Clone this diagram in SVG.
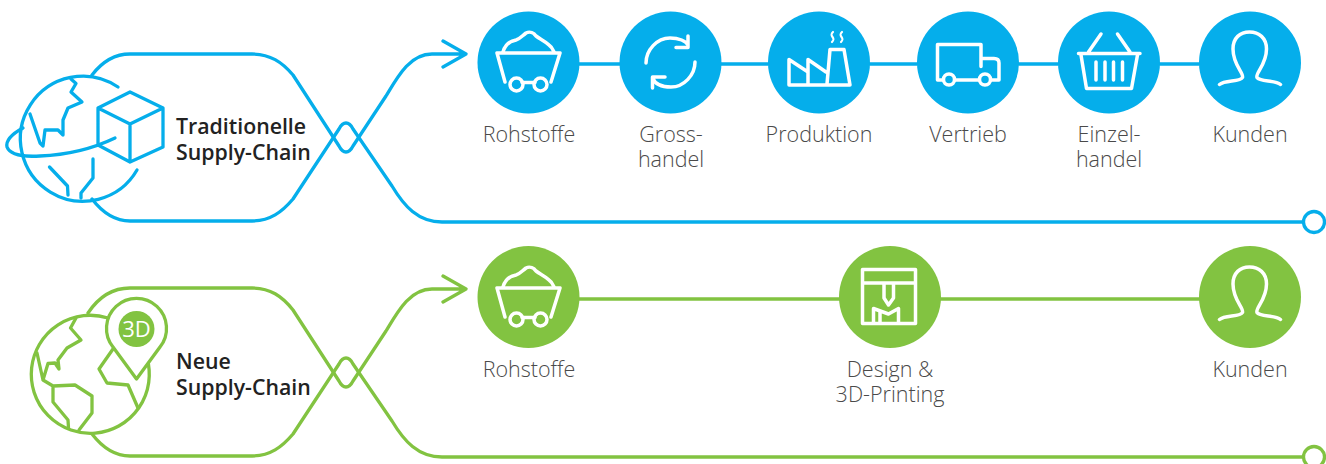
<svg xmlns="http://www.w3.org/2000/svg" xmlns:xlink="http://www.w3.org/1999/xlink" width="1326" height="464" viewBox="0 0 1326 464">
<style>
.b{fill:none;stroke:#05aeeb;stroke-width:3.300;stroke-linejoin:round;stroke-linecap:round}
.g{fill:none;stroke:#82c341;stroke-width:3.300;stroke-linejoin:round;stroke-linecap:round}
.bf{fill:#05aeeb}.gf{fill:#82c341}
.i{fill:none;stroke:#fff;stroke-width:3.500;stroke-linejoin:round;stroke-linecap:round}
.l{font-family:"Open Sans",sans-serif;font-weight:300;font-size:21.500px;fill:#4a4a4a;text-anchor:middle}
.t{font-family:"Open Sans",sans-serif;font-weight:600;font-size:21.300px;fill:#222}
</style>
<defs>
<g id="cart">
<path class="i" d="M497 53H560M497 53L505 82M560 53L551 82M522 82.500H535"/>
<path class="i" d="M503 52C505 45 510 41 516 40C520 39 522 36 526 33C530 31 534 33 536 36C540 39 545 41 549 45C552 47 553 50 554 52"/>
<circle class="i" cx="516.500" cy="84.500" r="6.500"/><circle class="i" cx="540.500" cy="84.500" r="6.500"/>
</g>
<path id="person" class="i" d="M1219.500 84.500C1225 80 1240 82 1242.500 77.500C1244 73 1233 65 1233 49C1233 38 1240 32 1249.500 32C1259 32 1266.500 38 1266.500 49C1266.500 65 1255 73 1257 77.500C1260 82 1275 80 1280.500 84.500"/>
</defs>
<g id="connectors">
<path class="b" d="M92 75C102 62 114 54 130 54H252C270 54 282 62 293 75L339 146C343 154 349 154 353 146L386 96C398 76 410 54 432 54H466M443 41L466 54L443 67"/>
<path class="b" d="M92 199C102 212 114 221 130 221H252C270 221 282 212 293 199L339 129C343 121 349 121 353 129L392 186C404 206 418 222 442 222H1303"/>
<circle class="b" cx="1314" cy="222" r="10.500"/>
<path class="b" d="M579 64H620M721 64H768M870 64H917M1019 64H1058M1160 64H1199"/>
<path class="g" d="M88 313C98 298 112 288 130 288H252C270 288 282 296 293 310L339 381C343 389 349 389 353 381L386 331C398 311 410 289 432 289H466M443 276L466 289L443 302"/>
<path class="g" d="M92 434C102 447 114 456 130 456H252C270 456 282 447 293 434L339 364C343 356 349 356 353 364L392 421C404 441 418 457 442 457H1303"/>
<circle class="g" cx="1314" cy="457" r="10.500"/>
<path class="g" d="M579 299H840M940 299H1200"/>
</g>
<g id="globe-blue">
<path class="b" d="M118 87A62.500 62.500 0 1 0 137 170"/>
<path class="b" d="M71 79L76 83.500L71 92L82 102L68 108L63 120L63 135L58 130L45 130L43 146L40 143L30 114"/>
<path class="b" d="M49.500 167L67.500 186L68 195M93 159V178L81 193V198"/>
<path class="b" d="M23 128C10 135 6 142 7 147C10 155 25 157 40 156C65 155 90 150 115 138"/>
<path class="b" d="M130 92L163 108V147L130 162L98 145V108ZM98 108L130 124L163 108M130 124V162"/>
</g>
<g id="label-trad"><text class="t"><tspan x="176" y="134">Traditionelle</tspan><tspan x="176" y="160">Supply-Chain</tspan></text></g>
<g id="n-rohstoffe1"><circle class="bf" cx="528.500" cy="62.500" r="51"/><use xlink:href="#cart"/><text class="l" x="529" y="142">Rohstoffe</text></g>
<g id="n-gross"><circle class="bf" cx="670.500" cy="62.500" r="51"/>
<path class="i" d="M646 63C646 50 657 38 670 38C679 38 686 41 688 45M688 36V47.500H676M695 62C695 75 684 87 671 87C662 87 655 84 652.500 78M652.500 88V77H665"/>
<text class="l"><tspan x="671" y="142">Gross-</tspan><tspan x="671" y="167">handel</tspan></text></g>
<g id="n-produktion"><circle class="bf" cx="819" cy="62.500" r="51"/>
<path class="i" d="M789 85H850L844 49.500H830L827 84M789 85V59.500L808 72V59.500L826 72M808 72V84"/>
<path class="i" style="stroke-width:2.200" d="M833 32C831 34 831 35 832.500 37C834 39 834 40 832 42M842 32C840 34 840 35 841.500 37C843 39 843 40 841 42"/>
<text class="l" x="819" y="142">Produktion</text></g>
<g id="n-vertrieb"><circle class="bf" cx="968" cy="62.500" r="51"/>
<path class="i" d="M943 80H937.500V44.500H981V66.500M981 58.500H994Q999 58.500 999 63V80H991M955 80H979"/>
<circle class="i" cx="949" cy="79.500" r="5.500"/><circle class="i" cx="985" cy="79.500" r="5.500"/>
<text class="l" x="968" y="142">Vertrieb</text></g>
<g id="n-einzel"><circle class="bf" cx="1109" cy="62.500" r="51"/>
<path class="i" d="M1078.500 53.500H1140M1081 55L1086.500 88.500H1131.500L1137.500 55M1088.500 52L1101 34M1130 52L1117.500 34M1096 62V80M1105 62V80M1113.500 62V80M1122.500 62V80"/>
<text class="l"><tspan x="1109" y="142">Einzel-</tspan><tspan x="1109" y="167">handel</tspan></text></g>
<g id="n-kunden1"><circle class="bf" cx="1250" cy="62.500" r="51"/><use xlink:href="#person"/><text class="l" x="1250" y="142">Kunden</text></g>
<g id="globe-green">
<path class="g" d="M108 318A59 59 0 1 0 147 358"/>
<path class="g" d="M76 318L70.500 328L81 340L67 348L58 360L59 369L55 363L48 363.500L43 380L37 353M43 380L53 386L75 385L92 396V413L79 430M53 386V402L68 420L68.500 428M113 349L99 369L107 383L128 385L138 408"/>
<path d="M136.500 379L113 347A30 30 0 1 1 160 347Z" fill="#fff" stroke="#82c341" stroke-width="3.300" stroke-linejoin="round"/>
<circle class="gf" cx="136.500" cy="329" r="18"/>
<text x="136.500" y="337" text-anchor="middle" font-family="'Open Sans',sans-serif" font-weight="500" font-size="22" fill="#fff">3D</text>
</g>
<g id="label-neu"><text class="t"><tspan x="176" y="369">Neue</tspan><tspan x="176" y="395">Supply-Chain</tspan></text></g>
<g id="n-rohstoffe2"><circle class="gf" cx="528.500" cy="297" r="51"/><use xlink:href="#cart" y="235"/><text class="l" x="529" y="377">Rohstoffe</text></g>
<g id="n-design"><circle class="gf" cx="890" cy="297" r="51"/>
<path class="i" d="M862.500 269.500H915.500V323.500H862.500ZM862.500 283H915.500M884 283V298L888.500 305L893.500 298V283M873.500 323V308.500L888.500 314L898.500 308.500V323M880 312V323"/>
<text class="l"><tspan x="890" y="377">Design &amp;</tspan><tspan x="890" y="402">3D-Printing</tspan></text></g>
<g id="n-kunden2"><circle class="gf" cx="1250" cy="297" r="51"/><use xlink:href="#person" y="235"/><text class="l" x="1250" y="377">Kunden</text></g>
</svg>
